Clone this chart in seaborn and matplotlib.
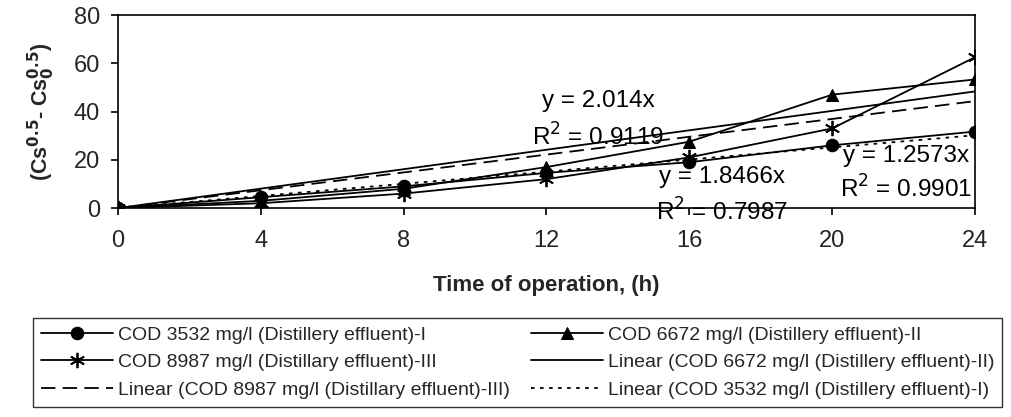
import numpy as np
import pandas as pd
import matplotlib
matplotlib.use("Agg")
import matplotlib.pyplot as plt
import seaborn as sns

# data
hours = [0, 4, 8, 12, 16, 20, 24]
cod_3532 = [0, 4.5, 9, 14.6, 19, 26, 31.7]
cod_6672 = [0, 3, 8, 17, 27.5, 47, 53.3]
cod_8987 = [0, 2, 6, 12, 21, 33, 62.5]

# trendline slopes (forced through origin) as printed on the chart
slope_6672 = 2.014
slope_8987 = 1.8466
slope_3532 = 1.2573
trend_x = [0, 24]

labels = {
    "I": "COD 3532 mg/l (Distillery effluent)-I",
    "II": "COD 6672 mg/l (Distillery effluent)-II",
    "III": "COD 8987 mg/l (Distillary effluent)-III",
    "LII": "Linear (COD 6672 mg/l (Distillery effluent)-II)",
    "LIII": "Linear (COD 8987 mg/l (Distillary effluent)-III)",
    "LI": "Linear (COD 3532 mg/l (Distillery effluent)-I)",
}

sns.set_style("white")
plt.rcParams["font.family"] = ["Liberation Sans", "DejaVu Sans"]

fig = plt.figure(figsize=(10.12, 4.17), dpi=100)
ax = fig.add_axes([0.1166, 0.501, 0.8468, 0.463])

sns.lineplot(x=hours, y=cod_3532, ax=ax, color="black", lw=1.3,
             marker="o", markersize=9, markeredgecolor="black", label=labels["I"])
sns.lineplot(x=hours, y=cod_6672, ax=ax, color="black", lw=1.3,
             marker="^", markersize=9, markeredgecolor="black", label=labels["II"])
sns.lineplot(x=hours, y=cod_8987, ax=ax, color="black", lw=1.3,
             marker=(6, 2, 0), markersize=11, markeredgewidth=1.3,
             markeredgecolor="black", label=labels["III"])

tx = np.array(trend_x)
sns.lineplot(x=trend_x, y=slope_6672 * tx, ax=ax, color="black", lw=1.3,
             label=labels["LII"])
sns.lineplot(x=trend_x, y=slope_8987 * tx, ax=ax, color="black", lw=1.3,
             label=labels["LIII"]).lines[-1].set_dashes([8, 4])
sns.lineplot(x=trend_x, y=slope_3532 * tx, ax=ax, color="black", lw=1.3,
             label=labels["LI"]).lines[-1].set_dashes([2, 3])

ax.set_xlim(0, 24)
ax.set_ylim(0, 80)
ax.set_xticks(range(0, 25, 4))
ax.set_yticks(range(0, 81, 20))
ax.margins(0)
ax.tick_params(axis="both", labelsize=17, direction="out", length=5,
               width=1.2, color="black", bottom=True, left=True)
ax.tick_params(axis="x", pad=11)
ax.tick_params(axis="y", pad=8)
for s in ax.spines.values():
    s.set_color("black")
    s.set_linewidth(1.2)

ax.set_xlabel("Time of operation, (h)", fontsize=16, fontweight="bold", labelpad=16)
ax.set_ylabel(r"(Cs$^{\mathbf{0.5}}$- Cs$_{\mathbf{0}}^{\mathbf{0.5}}$)",
              fontsize=15.5, fontweight="bold", labelpad=12)

# trendline equations
txt = dict(fontsize=17.5, ha="center", va="center", color="black", clip_on=False)
ax.text(0.56, 0.555, "y = 2.014x", transform=ax.transAxes, **txt)
ax.text(0.56, 0.37, r"R$^2$ = 0.9119", transform=ax.transAxes, **txt)
ax.text(0.705, 0.16, "y = 1.8466x", transform=ax.transAxes, **txt)
ax.text(0.705, -0.02, r"R$^2$ = 0.7987", transform=ax.transAxes, **txt)
ax.text(0.92, 0.27, "y = 1.2573x", transform=ax.transAxes, **txt)
ax.text(0.92, 0.10, r"R$^2$ = 0.9901", transform=ax.transAxes, **txt)

handles, labs = ax.get_legend_handles_labels()
ax.get_legend().remove()
lookup = dict(zip(labs, handles))
order = ["I", "III", "LIII", "II", "LII", "LI"]
leg = fig.legend([lookup[labels[k]] for k in order], [labels[k] for k in order],
                 ncol=2, loc="upper left", bbox_to_anchor=(0.033, 0.237),
                 fontsize=14, frameon=True, fancybox=False,
                 handlelength=3.7, handletextpad=0.25, borderpad=0.4,
                 labelspacing=0.52, columnspacing=1.1, borderaxespad=0)
leg.get_frame().set_edgecolor("black")
leg.get_frame().set_linewidth(1.0)

fig.savefig("out.png", dpi=100)
